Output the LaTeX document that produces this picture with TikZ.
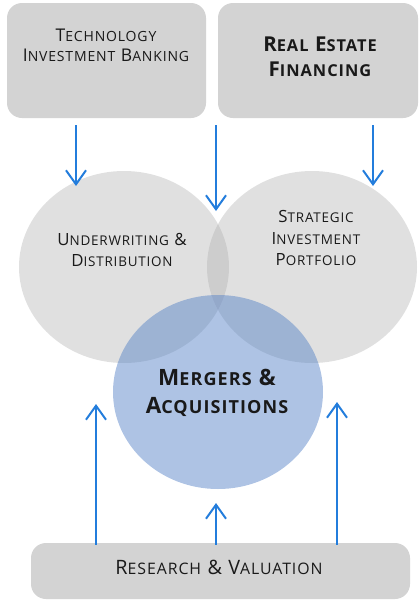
\documentclass[tikz,border=0pt]{standalone}
\usepackage{fontspec}
\setmainfont{Open Sans}[LetterSpace=6]
\newfontfamily\lcfont{Open Sans}[Scale=0.8,LetterSpace=6]
\newcommand\lc[1]{{\lcfont #1}}
\usetikzlibrary{arrows.meta}
\definecolor{boxgray}{RGB}{211,211,211}
\definecolor{circgray}{RGB}{175,175,175}
\definecolor{mablue}{RGB}{86,130,199}
\definecolor{arrblue}{RGB}{35,125,220}
\tikzset{
  box/.style={fill=boxgray, rounded corners=15pt, inner sep=0pt},
  macirc/.style={fill=mablue, fill opacity=0.48},
  lbl/.style={align=center, inner sep=0pt, text=black!90},
  arr/.style={draw=arrblue, line width=2pt, -{Straight Barb[length=14pt,width=20pt,line width=2pt]}}
}
\begin{document}
\begin{tikzpicture}[x=1pt,y=-1pt]
\useasboundingbox (0,0) rectangle (420,600);
% boxes
\node[box, minimum width=199pt, minimum height=115pt] (tib) at (106.5,60.5) {};
\node[box, minimum width=200pt, minimum height=115pt] (ref) at (318,60.5) {};
\node[box, minimum width=379pt, minimum height=56pt] (rv) at (220.5,571) {};
% circles
\fill[circgray, fill opacity=0.39] (124,267) ellipse [x radius=105, y radius=96];
\fill[circgray, fill opacity=0.39] (312,267) ellipse [x radius=105, y radius=96];
\fill[macirc] (218,392) ellipse [x radius=105, y radius=97];
% texts
\node[lbl, font=\fontsize{17.5}{20}\selectfont] (tibt) at (106,45) {T\lc{ECHNOLOGY}\\I\lc{NVESTMENT} B\lc{ANKING}};
\node[lbl, font=\fontsize{20.5}{25}\selectfont\bfseries] (reft) at (320,57) {R\lc{EAL} E\lc{STATE}\\F\lc{INANCING}};
\node[lbl, font=\fontsize{16.8}{21}\selectfont] (udt) at (122,250) {U\lc{NDERWRITING} \&\\D\lc{ISTRIBUTION}};
\node[lbl, font=\fontsize{16.8}{21.5}\selectfont] (sipt) at (316,238) {S\lc{TRATEGIC}\\I\lc{NVESTMENT}\\P\lc{ORTFOLIO}};
\node[lbl, font=\fontsize{22.5}{28}\selectfont\bfseries] (mat) at (217,393) {M\lc{ERGERS} \&\\A\lc{CQUISITIONS}};
\node[lbl, font=\fontsize{19.8}{20}\selectfont] (rvt) at (219,567) {R\lc{ESEARCH} \& V\lc{ALUATION}};
% arrows
\coordinate (e1) at (76,186);
\coordinate (e2) at (216,211);
\coordinate (e3) at (373,186);
\coordinate (e4) at (96,404);
\coordinate (e5) at (216,503);
\coordinate (e6) at (337,402);
\draw[arr] (tib.south -| e1) ++(0,7) -- (e1);
\draw[arr] (tib.south -| e2) ++(0,7) -- (e2);
\draw[arr] (ref.south -| e3) ++(0,7) -- (e3);
\draw[arr] (rv.north -| e4) ++(0,2) -- (e4);
\draw[arr] (rv.north -| e5) ++(0,2) -- (e5);
\draw[arr] (rv.north -| e6) ++(0,2) -- (e6);
\end{tikzpicture}
\end{document}
